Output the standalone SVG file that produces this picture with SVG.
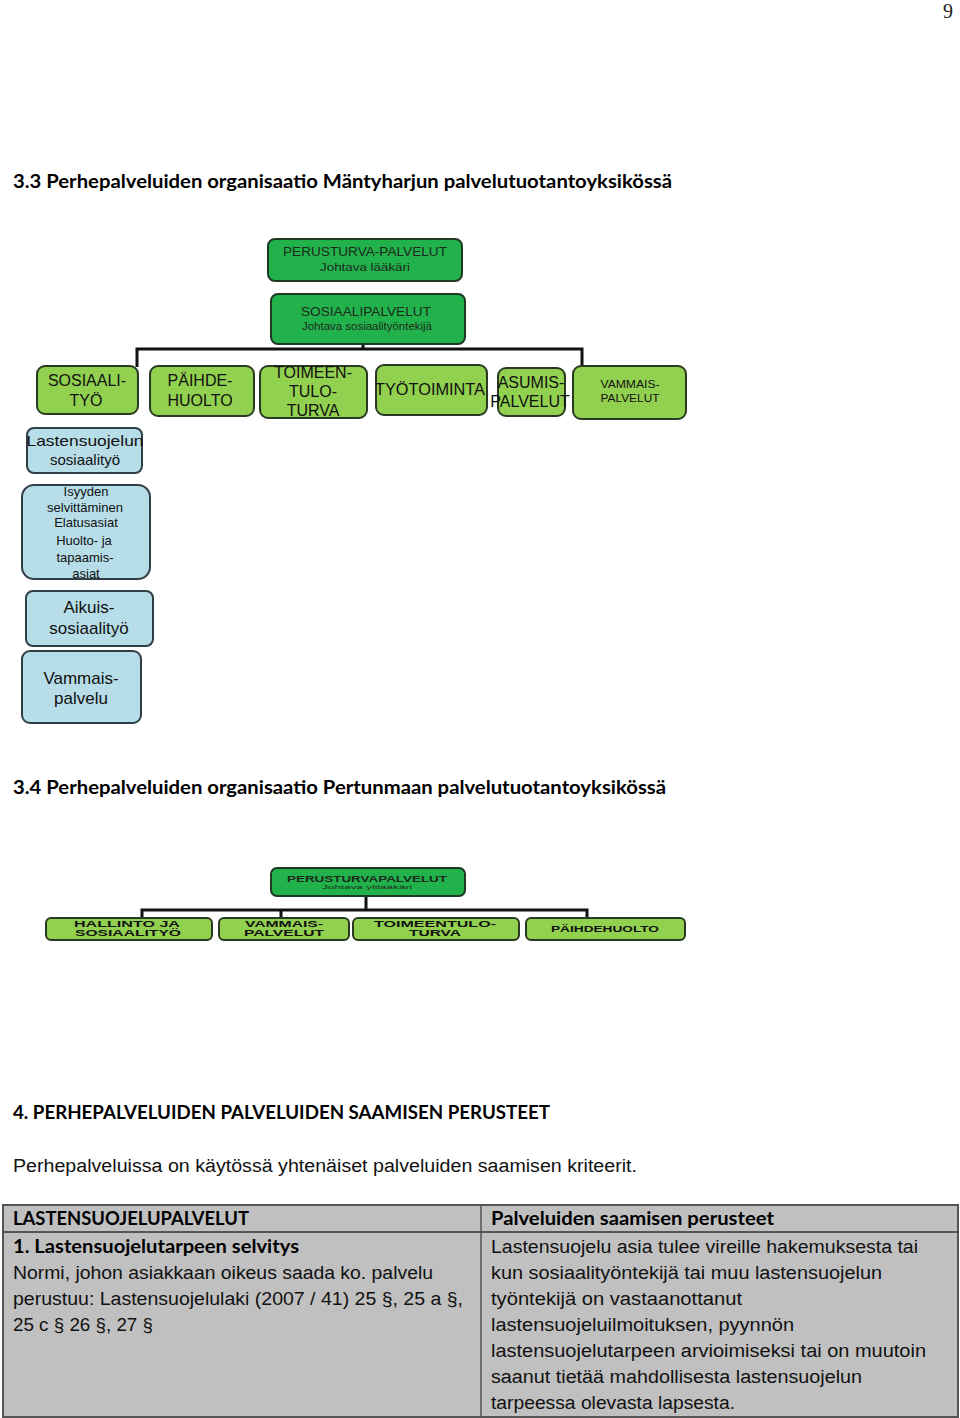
<svg xmlns="http://www.w3.org/2000/svg" width="960" height="1418" viewBox="0 0 960 1418">
<style>
.dg{fill:#22b24c;stroke:#1d3b22;stroke-width:2}
.lg{fill:#92d050;stroke:#2a3a22;stroke-width:2}
.bl{fill:#b7dde8;stroke:#2f3f45;stroke-width:2}
.t{font-family:"Liberation Sans",Arial,sans-serif;fill:#1c2a1c;text-anchor:middle}
.tb{font-family:"Liberation Sans",Arial,sans-serif;fill:#111;text-anchor:middle}
.h{font-family:Lato,"Liberation Sans",sans-serif;font-weight:bold;font-size:19px;fill:#000}
.p{font-family:"Liberation Sans",Arial,sans-serif;font-size:18px;fill:#111}
.pb{font-family:Lato,"Liberation Sans",sans-serif;font-weight:bold;font-size:19px;fill:#000}
.c{fill:none;stroke:#111;stroke-width:3}
</style>
<rect width="960" height="1418" fill="#fff"/>
<text x="948" y="18" font-family="Liberation Serif,serif" font-size="20" fill="#222" text-anchor="middle">9</text>

<text class="h" x="13" y="188" textLength="659" lengthAdjust="spacingAndGlyphs">3.3 Perhepalveluiden organisaatio Mäntyharjun palvelutuotantoyksikössä</text>

<g id="connectors1">
<path class="c" d="M363 344 V349 M137 367 V349 H582 V367"/>
</g>

<g id="perusturva1">
<rect class="dg" x="268" y="239" width="194" height="42" rx="7"/>
<text class="t" x="365" y="256" font-size="13" textLength="164" lengthAdjust="spacingAndGlyphs">PERUSTURVA-PALVELUT</text>
<text class="t" x="365" y="271" font-size="11" fill="#2d4a2d" textLength="90" lengthAdjust="spacingAndGlyphs">Johtava lääkäri</text>
</g>
<g id="sosiaalipalvelut1">
<rect class="dg" x="271" y="294" width="194" height="50" rx="7"/>
<text class="t" x="366" y="316" font-size="13" textLength="130" lengthAdjust="spacingAndGlyphs">SOSIAALIPALVELUT</text>
<text class="t" x="367" y="330" font-size="10" fill="#2d4a2d" textLength="130" lengthAdjust="spacingAndGlyphs">Johtava sosiaalityöntekijä</text>
</g>

<g id="sosiaalityo">
<rect class="lg" x="37" y="366" width="101" height="48" rx="8"/>
<text class="tb" x="87" y="386" font-size="16">SOSIAALI-</text>
<text class="tb" x="86" y="406" font-size="16">TYÖ</text>
</g>
<g id="paihdehuolto">
<rect class="lg" x="150" y="366" width="104" height="50" rx="8"/>
<text class="tb" x="200" y="386" font-size="16">PÄIHDE-</text>
<text class="tb" x="200" y="406" font-size="16">HUOLTO</text>
</g>
<g id="toimeentuloturva">
<rect class="lg" x="260" y="366" width="107" height="52" rx="8"/>
<text class="tb" x="313" y="378" font-size="16">TOIMEEN-</text>
<text class="tb" x="313" y="397" font-size="16">TULO-</text>
<text class="tb" x="313" y="416" font-size="16">TURVA</text>
</g>
<g id="tyotoiminta">
<rect class="lg" x="376" y="365" width="111" height="50" rx="8"/>
<text class="tb" x="430" y="395" font-size="16" textLength="110" lengthAdjust="spacingAndGlyphs">TYÖTOIMINTA</text>
</g>
<g id="asumispalvelut">
<rect class="lg" x="498" y="368" width="67" height="48" rx="8"/>
<text class="tb" x="531" y="388" font-size="16" fill="#2a2040">ASUMIS-</text>
<text class="tb" x="530" y="407" font-size="16" fill="#2a2040">PALVELUT</text>
</g>
<g id="vammaispalvelut1">
<rect class="lg" x="573" y="366" width="113" height="53" rx="8"/>
<text class="tb" x="630" y="388" font-size="11" textLength="59" lengthAdjust="spacingAndGlyphs">VAMMAIS-</text>
<text class="tb" x="630" y="402" font-size="11" textLength="59" lengthAdjust="spacingAndGlyphs">PALVELUT</text>
</g>

<g id="lastensuojelun">
<rect class="bl" x="27" y="428" width="115" height="45" rx="7"/>
<text class="tb" x="85" y="446" font-size="15" textLength="117" lengthAdjust="spacingAndGlyphs">Lastensuojelun</text>
<text class="tb" x="85" y="465" font-size="15">sosiaalityö</text>
</g>
<g id="isyyden">
<rect class="bl" x="22" y="485" width="128" height="94" rx="12"/>
<text class="tb" x="86" y="496" font-size="13">Isyyden</text>
<text class="tb" x="85" y="512" font-size="13">selvittäminen</text>
<text class="tb" x="86" y="527" font-size="13">Elatusasiat</text>
<text class="tb" x="84" y="545" font-size="13">Huolto- ja</text>
<text class="tb" x="85" y="562" font-size="13">tapaamis-</text>
<text class="tb" x="86" y="578" font-size="13">asiat</text>
</g>
<g id="aikuis">
<rect class="bl" x="26" y="591" width="127" height="55" rx="7"/>
<text class="tb" x="89" y="613" font-size="17">Aikuis-</text>
<text class="tb" x="89" y="634" font-size="17">sosiaalityö</text>
</g>
<g id="vammaispalvelu">
<rect class="bl" x="22" y="651" width="119" height="72" rx="8"/>
<text class="tb" x="81" y="684" font-size="17">Vammais-</text>
<text class="tb" x="81" y="704" font-size="17">palvelu</text>
</g>

<text class="h" x="13" y="794" textLength="653" lengthAdjust="spacingAndGlyphs">3.4 Perhepalveluiden organisaatio Pertunmaan palvelutuotantoyksikössä</text>

<g id="connectors2">
<path class="c" d="M366 896 V911" stroke-width="3"/>
<path class="c" stroke-width="2" d="M142 919 V910 H587 V919 M281 910 V919"/>
</g>
<g id="perusturva2">
<rect class="dg" x="271" y="868" width="194" height="28" rx="6"/>
<text class="t" x="367" y="882" font-size="9" font-weight="bold" textLength="160" lengthAdjust="spacingAndGlyphs">PERUSTURVAPALVELUT</text>
<text class="t" x="367" y="889" font-size="6" fill="#2d4a2d" textLength="90" lengthAdjust="spacingAndGlyphs">Johtava ylilääkäri</text>
</g>
<g id="hallinto">
<rect class="lg" x="46" y="918" width="166" height="22" rx="5"/>
<text class="tb" x="127" y="927" font-size="9" font-weight="bold" textLength="106" lengthAdjust="spacingAndGlyphs">HALLINTO JA</text>
<text class="tb" x="128" y="936" font-size="9" font-weight="bold" textLength="106" lengthAdjust="spacingAndGlyphs">SOSIAALITYÖ</text>
</g>
<g id="vammaispalvelut2">
<rect class="lg" x="219" y="918" width="130" height="22" rx="5"/>
<text class="tb" x="284" y="927" font-size="9" font-weight="bold" textLength="78" lengthAdjust="spacingAndGlyphs">VAMMAIS-</text>
<text class="tb" x="284" y="936" font-size="9" font-weight="bold" textLength="80" lengthAdjust="spacingAndGlyphs">PALVELUT</text>
</g>
<g id="toimeentulo2">
<rect class="lg" x="353" y="918" width="166" height="22" rx="5"/>
<text class="tb" x="435" y="927" font-size="9" font-weight="bold" textLength="122" lengthAdjust="spacingAndGlyphs">TOIMEENTULO-</text>
<text class="tb" x="435" y="936" font-size="9" font-weight="bold" textLength="52" lengthAdjust="spacingAndGlyphs">TURVA</text>
</g>
<g id="paihde2">
<rect class="lg" x="526" y="918" width="159" height="22" rx="5"/>
<text class="tb" x="605" y="932" font-size="9" font-weight="bold" textLength="108" lengthAdjust="spacingAndGlyphs">PÄIHDEHUOLTO</text>
</g>

<text class="h" x="13" y="1119" textLength="537" lengthAdjust="spacingAndGlyphs">4. PERHEPALVELUIDEN PALVELUIDEN SAAMISEN PERUSTEET</text>
<text class="p" x="13" y="1172" textLength="624" lengthAdjust="spacingAndGlyphs">Perhepalveluissa on käytössä yhtenäiset palveluiden saamisen kriteerit.</text>

<g id="table">
<rect x="3" y="1205" width="955" height="212" fill="#c0c0c0" stroke="#555" stroke-width="2"/>
<line x1="3" y1="1232" x2="958" y2="1232" stroke="#333" stroke-width="1.5"/>
<line x1="481" y1="1205" x2="481" y2="1417" stroke="#555" stroke-width="1.5"/>
<text class="pb" x="13" y="1225" textLength="236" lengthAdjust="spacingAndGlyphs">LASTENSUOJELUPALVELUT</text>
<text class="pb" x="491" y="1225" textLength="283" lengthAdjust="spacingAndGlyphs">Palveluiden saamisen perusteet</text>
<text class="pb" x="13" y="1253" textLength="286" lengthAdjust="spacingAndGlyphs">1. Lastensuojelutarpeen selvitys</text>
<text class="p" x="13" y="1279" textLength="420" lengthAdjust="spacingAndGlyphs">Normi, johon asiakkaan oikeus saada ko. palvelu</text>
<text class="p" x="13" y="1305" textLength="450" lengthAdjust="spacingAndGlyphs">perustuu: Lastensuojelulaki (2007 / 41) 25 §, 25 a §,</text>
<text class="p" x="13" y="1331" textLength="140" lengthAdjust="spacingAndGlyphs">25 c § 26 §, 27 §</text>
<text class="p" x="491" y="1253" textLength="427" lengthAdjust="spacingAndGlyphs">Lastensuojelu asia tulee vireille hakemuksesta tai</text>
<text class="p" x="491" y="1279" textLength="391" lengthAdjust="spacingAndGlyphs">kun sosiaalityöntekijä tai muu lastensuojelun</text>
<text class="p" x="491" y="1305" textLength="251" lengthAdjust="spacingAndGlyphs">työntekijä on vastaanottanut</text>
<text class="p" x="491" y="1331" textLength="303" lengthAdjust="spacingAndGlyphs">lastensuojeluilmoituksen, pyynnön</text>
<text class="p" x="491" y="1357" textLength="435" lengthAdjust="spacingAndGlyphs">lastensuojelutarpeen arvioimiseksi tai on muutoin</text>
<text class="p" x="491" y="1383" textLength="371" lengthAdjust="spacingAndGlyphs">saanut tietää mahdollisesta lastensuojelun</text>
<text class="p" x="491" y="1409" textLength="244" lengthAdjust="spacingAndGlyphs">tarpeessa olevasta lapsesta.</text>
</g>
</svg>
